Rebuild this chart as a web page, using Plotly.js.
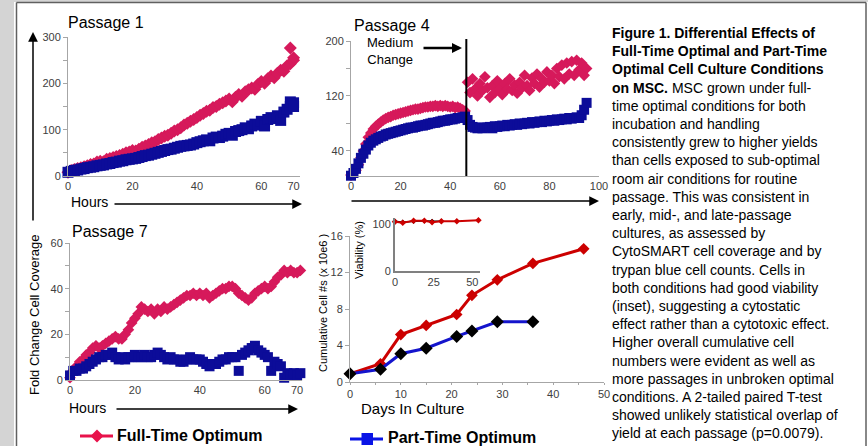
<!DOCTYPE html>
<html><head><meta charset="utf-8">
<script src="https://cdn.plot.ly/plotly-3.0.1.min.js"></script>
<style>html,body{margin:0;padding:0;background:#fff;}#chart{width:868px;height:446px;}</style>
</head><body><div id="chart"></div>
<script>
// ---------- DATA ----------
// Passage 1 (hours, fold change cell coverage)
const p1Hours = [0,1,2,3,4,5,6,7,8,9,10,11,12,13,14,15,16,17,18,19,20,21,22,23,24,25,26,27,28,29,30,31,32,33,34,35,36,37,38,39,40,41,42,43,44,45,46,47,48,49,50,51,52,53,54,55,56,57,58,59,60,61,62,63,64,65,66,67,68,69,70,69,70];
const p1Full = [8,12,14,16,18,20,22,25,26,30,32,31,36,38,40,42,44,47,50,52,55,54,58,62,65,68,72,74,79,82,86,88,92,97,100,104,110,114,118,122,126,131,135,140,142,148,150,155,158,162,166,160,170,176,172,182,186,190,187,198,204,200,210,216,212,222,228,226,238,242,250,276,255];
const p1Part = [8,10,12,13,15,16,18,19,20,22,23,24,26,27,29,30,32,33,35,36,37,38,40,42,44,45,47,49,51,53,55,57,58,60,62,64,65,66,67,69,72,74,76,78,76,82,84,83,86,90,92,88,96,98,100,104,102,108,112,110,118,108,122,126,124,130,120,138,144,150,158,160,150];
// Passage 4
const p4Hours = [0,1,2,3,4,5,6,7,8,9,10,11,12,13,14,15,16,17,18,19,20,21,22,23,24,25,26,27,28,29,30,31,32,33,34,35,36,37,38,39,40,41,42,43,44,45,46,47,48,49,50,51,52,53,54,55,56,57,58,59,60,61,62,63,64,65,66,67,68,69,70,71,72,73,74,75,76,77,78,79,80,81,82,83,84,85,86,87,88,89,90,91,92,93,94,95];
const p4Full = [5,8,12,20,30,40,50,60,66,72,76,79,82,85,87,89,90,92,93,94,95,96,97,98,99,100,101,101,102,103,104,104,105,105,106,105,106,105,106,105,104,105,103,104,102,100,98,140,125,145,130,120,138,128,148,132,118,135,125,142,130,122,138,130,145,128,136,124,140,132,150,135,128,146,138,152,133,145,140,155,142,150,138,160,148,165,145,168,152,170,150,172,158,168,150,160];
const p4Part = [4,8,14,22,30,36,42,48,52,55,57,59,61,62,64,65,66,67,68,69,70,71,72,73,74,74,75,76,77,77,78,79,80,81,81,82,83,84,84,85,86,86,87,88,88,89,90,85,78,75,74,73,74,73,74,74,75,73,76,75,76,77,76,78,77,78,79,78,80,79,80,81,80,82,81,82,83,82,84,83,84,85,84,86,85,86,87,86,88,87,88,89,88,92,100,110];
const mediumChangeHour = 46.5;
// Passage 7
const p7Hours = [0,1,2,3,4,5,6,7,8,9,10,11,12,13,14,15,16,17,18,19,20,21,22,23,24,25,26,27,28,29,30,31,32,33,34,35,36,37,38,39,40,41,42,43,44,45,46,47,48,49,50,51,52,53,54,55,56,57,58,59,60,61,62,63,64,65,66,67,68,69,70,71];
const p7Full = [1,4,6,8,9,11,12,14,15,14,15,16,17,18,19,18,18,20,22,25,27,29,32,31,30,31,29,31,30,32,31,32,33,34,35,36,37,37,38,37,38,37,38,36,37,38,39,40,40,41,41,40,38,37,36,35,36,38,39,40,41,40,41,43,45,46,48,47,48,47,47,48];
const p7Part = [2,4,4,5,5,6,7,8,9,10,10,11,11,12,10,9,10,9,10,10,11,10,10,11,10,10,11,12,11,10,9,10,9,9,8,8,9,10,9,9,9,8,7,6,7,7,8,9,9,10,10,10,4,11,12,13,14,15,13,12,11,10,4,8,7,6,1,3,2,3,2,3];
// Cumulative cell numbers (x 10e6) by days in culture
const cumDaysFull = [0,6,10,15,21,24,29,36,46];
const cumFull = [0.9,2.0,5.2,6.2,7.4,9.5,11.2,13.0,14.6];
const cumDaysPart = [0,6,10,15,21,24,29,36];
const cumPart = [0.9,1.4,3.1,3.7,5.0,5.6,6.6,6.6];
// Inset: viability (%)
const viaDaysFull = [0,5,12,19,24,30,40,54];
const viaFull = [105,103,107,107,104,106,106,108];
const viaDaysPart = [0,5,12,19,24,30];
const viaPart = [106,104,106,107,106,106];
// Tick labels
const p1XTicks = [0,20,40,60,70];
const p4XTicks = [0,20,40,60,80,100];
const p7XTicks = [0,20,40,60,70];
const seriesNames = ['Full-Time Optimum','Part-Time Optimum'];
const captionBold = 'Figure 1. Differential Effects of<br>Full-Time Optimal and Part-Time<br>Optimal Cell Culture Conditions<br>on MSC.';
const captionRest = [' MSC grown under full-','time optimal conditions for both','incubation and handling','consistently grew to higher yields','than cells exposed to sub-optimal','room air conditions for routine','passage. This was consistent in','early, mid-, and late-passage','cultures, as assessed by','CytoSMART cell coverage and by','trypan blue cell counts. Cells in','both conditions had good viability','(inset), suggesting a cytostatic','effect rather than a cytotoxic effect.','Higher overall cumulative cell','numbers were evident as well as','more passages in unbroken optimal','conditions. A 2-tailed paired T-test','showed unlikely statistical overlap of','yield at each passage (p=0.0079).'];

// ---------- LAYOUT HELPERS ----------
const W = 868, H = 446;
const fx = p => p / W;
const fy = p => 1 - p / H;
const FONT = 'Liberation Sans, Arial, sans-serif';
const PINK = '#d6195b', NAVY = '#0c0c99';
const LEG_RED = '#e8124b', LEG_BLUE = '#0a14e6';

const axBase = {showgrid:false, zeroline:false, showline:true, linecolor:'#a6a6a6', linewidth:1,
  ticks:'outside', ticklen:4, tickcolor:'#a6a6a6', tickfont:{family:FONT, size:11, color:'#404040'}, fixedrange:true};
const minorTicks = (vals, len) => ({tickvals: vals, ticks:'outside', ticklen:len||4, tickcolor:'#a6a6a6'});

const sc = (x, y, xa, ya, symbol, size, color, extra) => Object.assign({
  type:'scatter', mode:'markers', x, y, xaxis:xa, yaxis:ya, showlegend:false, cliponaxis:false,
  marker:{symbol, size, color, line:{width:0}}, hoverinfo:'skip'}, extra || {});

const traces = [
  sc(p1Hours, p1Full, 'x', 'y', 'diamond', 10, PINK),
  sc(p1Hours, p1Part, 'x', 'y', 'square', 11, NAVY),
  sc(p4Hours, p4Full, 'x2', 'y2', 'diamond', 9, PINK),
  sc(p4Hours, p4Part, 'x2', 'y2', 'square', 10, NAVY),
  sc(p7Hours, p7Full, 'x3', 'y3', 'diamond', 9, PINK),
  sc(p7Hours, p7Part, 'x3', 'y3', 'square', 10, NAVY),
  sc(cumDaysFull, cumFull, 'x4', 'y4', 'diamond', 9, '#cc0000', {mode:'lines+markers', line:{color:'#cc0000', width:3}}),
  sc(cumDaysPart, cumPart, 'x4', 'y4', 'diamond', 10, '#000000', {mode:'lines+markers', line:{color:'#1414cc', width:3}}),
  sc(viaDaysPart, viaPart, 'x5', 'y5', 'diamond', 4, '#000000', {mode:'lines+markers', line:{color:'#000000', width:1.5}}),
  sc(viaDaysFull, viaFull, 'x5', 'y5', 'diamond', 5, '#cc0000', {mode:'lines+markers', line:{color:'#cc0000', width:2}})
];

const txt = (text, x, y, size, extra) => Object.assign({text, x:fx(x), y:fy(y), xref:'paper', yref:'paper',
  xanchor:'center', yanchor:'middle', showarrow:false, font:{family:FONT, size, color:'#000'}}, extra || {});
const arrow = (tipX, tipY, ax, ay, width, size) => ({text:'', x:fx(tipX), y:fy(tipY), xref:'paper', yref:'paper',
  showarrow:true, ax, ay, axref:'pixel', ayref:'pixel', arrowhead:2, arrowsize:size||1.2, arrowwidth:width||1.5, arrowcolor:'#000'});

const annotations = [
  txt('Passage 1', 66, 22, 16, {xanchor:'left'}),
  txt('Passage 4', 352, 25, 16, {xanchor:'left'}),
  txt('Passage 7', 70, 232, 16, {xanchor:'left'}),
  txt('Hours', 69, 202, 14, {xanchor:'left'}),
  txt('Hours', 67, 408, 14, {xanchor:'left'}),
  txt('Medium<br>Change', 390, 51, 13),
  txt('Days In Culture', 359, 408, 15, {xanchor:'left'}),
  txt('Fold Change Cell Coverage', 34, 315, 13, {textangle:-90}),
  txt('Cumulative Cell #s (x 10e6 )', 323, 303, 11, {textangle:-90}),
  txt('Viability (%)', 359, 250, 11, {textangle:-90}),
  txt('<b>' + captionBold + '</b>' + captionRest.join('<br>'), 610, 23, 14, {xanchor:'left', yanchor:'top', align:'left'}),
  txt('<b>' + seriesNames[0] + '</b>', 115, 435, 16, {xanchor:'left'}),
  txt('<b>' + seriesNames[1] + '</b>', 386, 437, 16, {xanchor:'left'}),
  arrow(33, 32, 0, 190, 1.5, 1.3),
  arrow(302, 204, -189, 0, 1.5, 1.3),
  arrow(599, 201, -249, 0, 1.5, 1.3),
  arrow(298, 409, -183, 0, 1.5, 1.3),
  arrow(462, 48, -40, 0, 2.5, 0.8)
];

const P = (x, y) => fx(x) + ',' + fy(y);
const shapes = [
  {type:'rect', xref:'paper', yref:'paper', x0:0, x1:fx(14), y0:0, y1:1, fillcolor:'#d4d4d4', line:{width:0}, layer:'below'},
  {type:'rect', xref:'paper', yref:'paper', x0:0, x1:1, y0:fy(2), y1:1, fillcolor:'#d4d4d4', line:{width:0}, layer:'below'},
  {type:'line', xref:'paper', yref:'paper', x0:fx(16.5), x1:fx(16.5), y0:0, y1:fy(2.5), line:{color:'#606060', width:1.5}},
  {type:'line', xref:'paper', yref:'paper', x0:fx(16.5), x1:fx(866), y0:fy(2.5), y1:fy(2.5), line:{color:'#606060', width:1.5}},
  {type:'line', xref:'paper', yref:'paper', x0:fx(866), x1:fx(866), y0:0, y1:fy(2.5), line:{color:'#606060', width:1.5}},
  {type:'line', xref:'x2', yref:'paper', x0:mediumChangeHour, x1:mediumChangeHour, y0:fy(176), y1:fy(39), line:{color:'#000', width:2}},
  // legend keys
  {type:'line', xref:'paper', yref:'paper', x0:fx(80), x1:fx(113), y0:fy(436), y1:fy(436), line:{color:LEG_RED, width:3}},
  {type:'path', xref:'paper', yref:'paper', path:'M'+P(97,429.5)+' L'+P(103.5,436)+' L'+P(97,442.5)+' L'+P(90.5,436)+' Z', fillcolor:LEG_RED, line:{width:0}},
  {type:'line', xref:'paper', yref:'paper', x0:fx(350), x1:fx(383), y0:fy(439), y1:fy(439), line:{color:LEG_BLUE, width:3}},
  {type:'rect', xref:'paper', yref:'paper', x0:fx(361.5), x1:fx(373), y0:fy(445), y1:fy(433), fillcolor:LEG_BLUE, line:{width:0}}
];

const layout = {
  width:W, height:H, margin:{l:0, r:0, t:0, b:0}, paper_bgcolor:'#fff', plot_bgcolor:'rgba(0,0,0,0)',
  font:{family:FONT}, showlegend:false,
  xaxis: Object.assign({}, axBase, {domain:[fx(68), fx(300)], range:[0,72], anchor:'y', tickvals:p1XTicks, ticks:''}),
  yaxis: Object.assign({}, axBase, {domain:[fy(176), fy(37)], range:[0,300], anchor:'x', tickvals:[0,100,200,300], minor:minorTicks([50,150,250])}),
  xaxis2: Object.assign({}, axBase, {domain:[fx(351), fx(599)], range:[0,100], anchor:'y2', tickvals:p4XTicks, ticks:''}),
  yaxis2: Object.assign({}, axBase, {domain:[fy(176), fy(41)], range:[3.6,200], anchor:'x2', tickvals:[40,120,200], minor:minorTicks([80,160])}),
  xaxis3: Object.assign({}, axBase, {domain:[fx(70), fx(302)], range:[0,71.5], anchor:'y3', tickvals:p7XTicks, ticks:''}),
  yaxis3: Object.assign({}, axBase, {domain:[fy(380), fy(243)], range:[0,60], anchor:'x3', tickvals:[0,20,40,60], minor:minorTicks([10,30,50])}),
  xaxis4: Object.assign({}, axBase, {domain:[fx(350), fx(604)], range:[0,50], anchor:'y4', tickvals:[0,10,20,30,40,50], ticklen:2, minor:minorTicks([5,15,25,35,45], 2)}),
  yaxis4: Object.assign({}, axBase, {domain:[fy(382), fy(236)], range:[0,16], anchor:'x4', tickvals:[0,4,8,12,16]}),
  xaxis5: Object.assign({}, axBase, {domain:[fx(395), fx(480)], range:[0,55], anchor:'y5', tickvals:[0,25,50], ticks:'', linecolor:'#808080', linewidth:2}),
  yaxis5: Object.assign({}, axBase, {domain:[fy(271), fy(218)], range:[0,113], anchor:'x5', tickvals:[0,100], ticks:'', linecolor:'#808080', linewidth:2}),
  annotations, shapes
};

Plotly.newPlot('chart', traces, layout, {staticPlot:true, displayModeBar:false});
</script></body></html>
